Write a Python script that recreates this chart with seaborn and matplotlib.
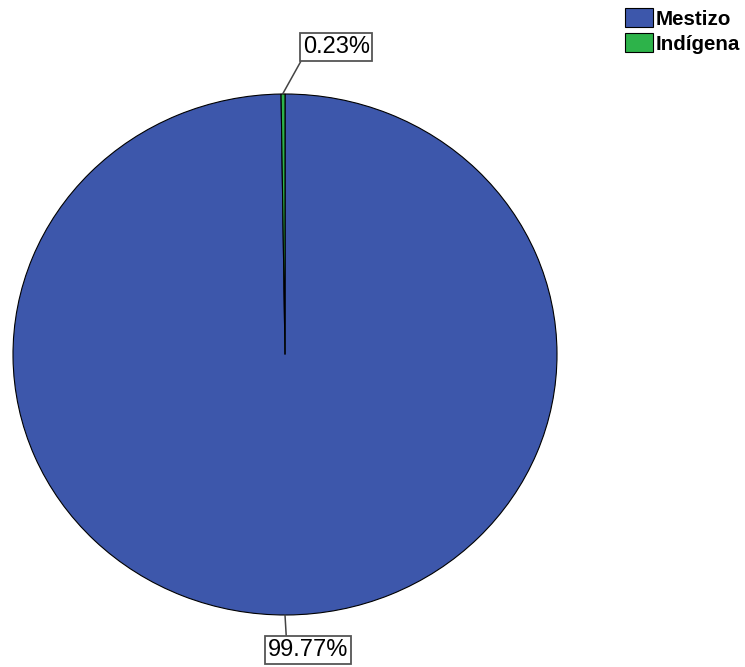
import numpy as np
import matplotlib
matplotlib.use("Agg")
import matplotlib.pyplot as plt
import seaborn as sns

# Data
categories = ["Mestizo", "Indígena"]
percentages = [99.77, 0.23]
colors = ["#3D57AB", "#2DB34A"]

sns.set_theme(style="white")
plt.rcParams["font.family"] = ["Liberation Sans", "DejaVu Sans"]
plt.rcParams["text.color"] = "black"

W, H = 745, 667
fig = plt.figure(figsize=(W / 100, H / 100), dpi=100)

# pie box in pixels: x 13..557, y 94..615 (slightly elliptical)
ax = fig.add_axes([13 / W, (H - 615) / H, 544 / W, 521 / H])
wedges, _ = ax.pie(percentages, colors=colors, startangle=90, counterclock=False,
                   wedgeprops=dict(edgecolor="black", linewidth=0.8))
ax.set_xlim(-1, 1)
ax.set_ylim(-1, 1)
ax.set_aspect("auto")
ax.axis("off")

# label positions (data coords) and leader attachment points
text_pos = {"Mestizo": (0.085, -1.135), "Indígena": (0.188, 1.18)}
relpos = {"Mestizo": (0.23, 1.0), "Indígena": (0.0, 0.0)}

for w, cat, pct in zip(wedges, categories, percentages):
    if cat == "Mestizo":
        ang = np.deg2rad(-90)
    else:
        ang = np.deg2rad(w.theta1 + 0.6 * (w.theta2 - w.theta1))
    tip = (np.cos(ang), np.sin(ang))
    ax.annotate(f"{pct:.2f}%", xy=tip, xytext=text_pos[cat],
                ha="center", va="center", fontsize=17, color="black",
                bbox=dict(boxstyle="square,pad=0.12", fc="white", ec="#555555", lw=1.3),
                arrowprops=dict(arrowstyle="-", color="#444444", lw=1.1,
                                relpos=relpos[cat], shrinkA=0, shrinkB=0),
                annotation_clip=False)

handles = [plt.Rectangle((0, 0), 1, 1, fc=c, ec="black", lw=0.8) for c in colors]
leg = fig.legend(handles, categories, loc="upper left",
                 bbox_to_anchor=(625 / W, 1 - 8 / H), frameon=False,
                 handlelength=1.35, handleheight=1.05, handletextpad=0.12,
                 labelspacing=0.22, borderaxespad=0, borderpad=0,
                 prop=dict(family="Liberation Sans", weight="bold", size=14.8))

fig.savefig("out.png", dpi=100, facecolor="white")
